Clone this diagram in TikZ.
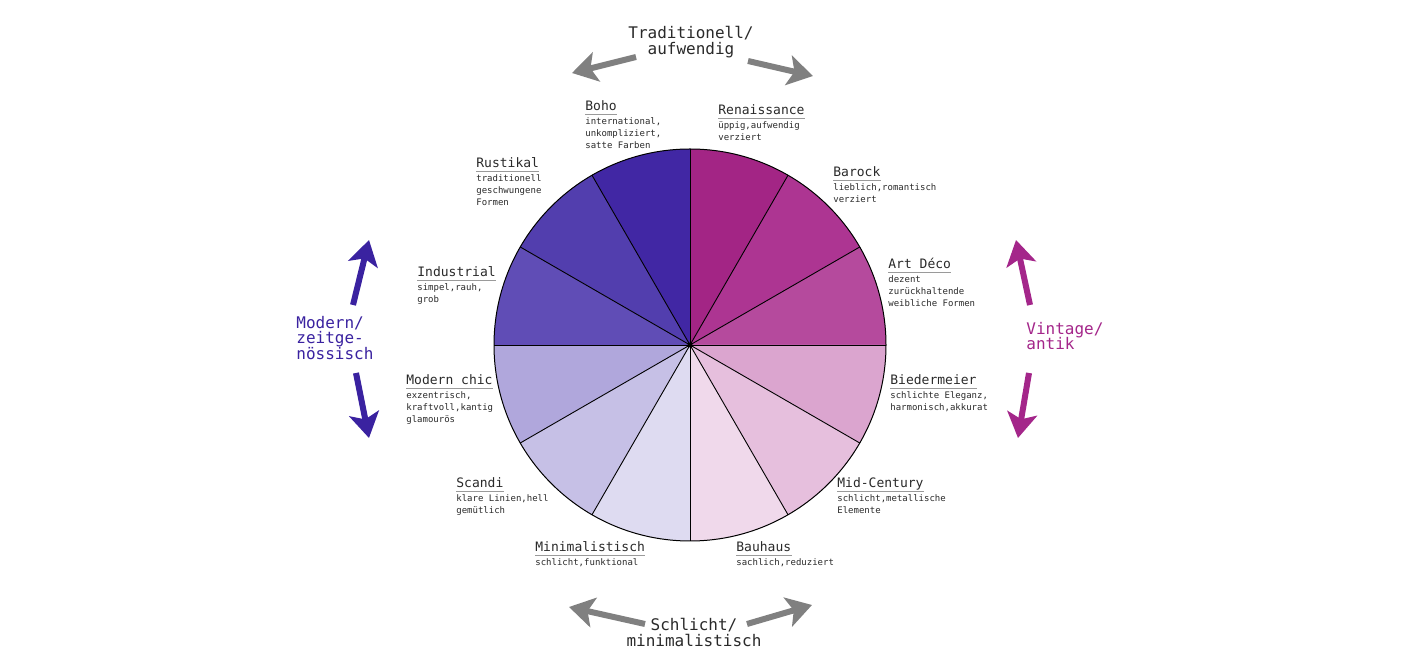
\documentclass[tikz,border=0pt]{standalone}
\usepackage{fontspec}
\setmainfont{DejaVu Sans Mono}
\setmonofont{DejaVu Sans Mono}
\usetikzlibrary{arrows.meta}
\definecolor{cren}{HTML}{A32585}
\definecolor{cbar}{HTML}{AD3592}
\definecolor{cart}{HTML}{B54A9D}
\definecolor{cbie}{HTML}{DBA5CF}
\definecolor{cmid}{HTML}{E6BFDD}
\definecolor{cbau}{HTML}{F0D9EB}
\definecolor{cmin}{HTML}{DEDBF1}
\definecolor{csca}{HTML}{C6C0E6}
\definecolor{cmoc}{HTML}{B0A7DC}
\definecolor{cind}{HTML}{604DB6}
\definecolor{crus}{HTML}{523EAE}
\definecolor{cboh}{HTML}{4127A4}
\definecolor{hdcol}{HTML}{2A2A2A}
\definecolor{bdcol}{HTML}{2A2A2A}
\definecolor{ulcol}{HTML}{9A9A9A}
\definecolor{modcol}{HTML}{3A22A0}
\definecolor{vincol}{HTML}{A4268A}
\definecolor{arrgrey}{HTML}{808080}
\begin{document}
\begin{tikzpicture}[x=0.5pt,y=-0.5pt,
  hd/.style={anchor=base west,inner sep=0pt,font=\fontsize{6.5}{7}\selectfont,text=hdcol},
  bd/.style={anchor=north west,inner sep=0pt,align=left,font=\fontsize{4.5}{6}\selectfont,text=bdcol},
  ul/.style={draw=ulcol,line width=0.4pt},
  ttl/.style={inner sep=0pt,align=center,font=\fontsize{8}{8}\selectfont,text=hdcol},
  side/.style={inner sep=0pt,align=left,font=\fontsize{8}{7.8}\selectfont},
  bigarrow/.style={line width=3pt,-{Stealth[length=12.5pt,width=15pt,inset=3pt]}}]
\useasboundingbox (0,0) rectangle (1404,672);
\fill[white] (0,0) rectangle (1404,672);

% wheel
\begin{scope}[shift={(690,345)},yscale=-1]
\foreach \a/\c in {90/cren,60/cbar,30/cart,0/cbie,-30/cmid,-60/cbau,-90/cmin,-120/csca,-150/cmoc,-180/cind,-210/crus,-240/cboh}{
  \fill[\c] (0,0) -- (\a:196) arc[start angle=\a,end angle=\a-30,radius=196] -- cycle;
}
\foreach \a in {0,30,...,330}{
  \draw[black,line width=0.45pt] (0,0) -- (\a:196);
}
\draw[black,line width=0.5pt] (0,0) circle[radius=196];
\fill[black] (0,0) circle[radius=2.5];
\end{scope}

% labels
\newcommand\lab[5]{% name, x, baseline y, heading, body
  \node[hd] (#1) at (#2,#3) {#4};
  \draw[ul] ([yshift=-1.6pt]#1.base west) -- ([yshift=-1.6pt]#1.base east);
  \node[bd] (#1b) at (#2,#3+6) {#5};
}
\lab{boho}{585}{111}{Boho}{international,\\unkompliziert,\\satte Farben}
\lab{ren}{718}{115}{Renaissance}{üppig,aufwendig\\verziert}
\lab{bar}{833}{177}{Barock}{lieblich,romantisch\\verziert}
\lab{art}{888}{269}{Art Déco}{dezent\\zurückhaltende\\weibliche Formen}
\lab{bie}{890}{385}{Biedermeier}{schlichte Eleganz,\\harmonisch,akkurat}
\lab{mid}{837}{488}{Mid-Century}{schlicht,metallische\\Elemente}
\lab{bau}{736}{552}{Bauhaus}{sachlich,reduziert}
\lab{min}{535}{552}{Minimalistisch}{schlicht,funktional}
\lab{sca}{456}{488}{Scandi}{klare Linien,hell\\gemütlich}
\lab{moc}{406}{385}{Modern chic}{exzentrisch,\\kraftvoll,kantig\\glamourös}
\lab{ind}{417}{277}{Industrial}{simpel,rauh,\\grob}
\lab{rus}{476}{168}{Rustikal}{traditionell\\geschwungene\\Formen}

% direction titles
\node[ttl] (top) at (691,42) {Traditionell/\\aufwendig};
\node[ttl] (bot) at (694,632) {Schlicht/\\minimalistisch};
\node[side,anchor=west,text=modcol] (modern) at (296,338) {Modern/\\zeitge-\\nössisch};
\node[side,anchor=west,text=vincol] (vintage) at (1026,336) {Vintage/\\antik};

% arrows
\coordinate (tlS) at (636,57);  \coordinate (tlE) at (572,73);
\coordinate (trS) at (748,61);  \coordinate (trE) at (813,76);
\coordinate (blS) at (645,624); \coordinate (blE) at (569,607);
\coordinate (brS) at (747,624); \coordinate (brE) at (812,605);
\coordinate (muS) at (353,305); \coordinate (muE) at (369,240);
\coordinate (mdS) at (356,373); \coordinate (mdE) at (369,438);
\coordinate (vuS) at (1030,305); \coordinate (vuE) at (1016,240);
\coordinate (vdS) at (1029,373); \coordinate (vdE) at (1018,438);
\draw[bigarrow,arrgrey] (tlS) -- (tlE);
\draw[bigarrow,arrgrey] (trS) -- (trE);
\draw[bigarrow,arrgrey] (blS) -- (blE);
\draw[bigarrow,arrgrey] (brS) -- (brE);
\draw[bigarrow,modcol] (muS) -- (muE);
\draw[bigarrow,modcol] (mdS) -- (mdE);
\draw[bigarrow,vincol] (vuS) -- (vuE);
\draw[bigarrow,vincol] (vdS) -- (vdE);
\end{tikzpicture}
\end{document}
